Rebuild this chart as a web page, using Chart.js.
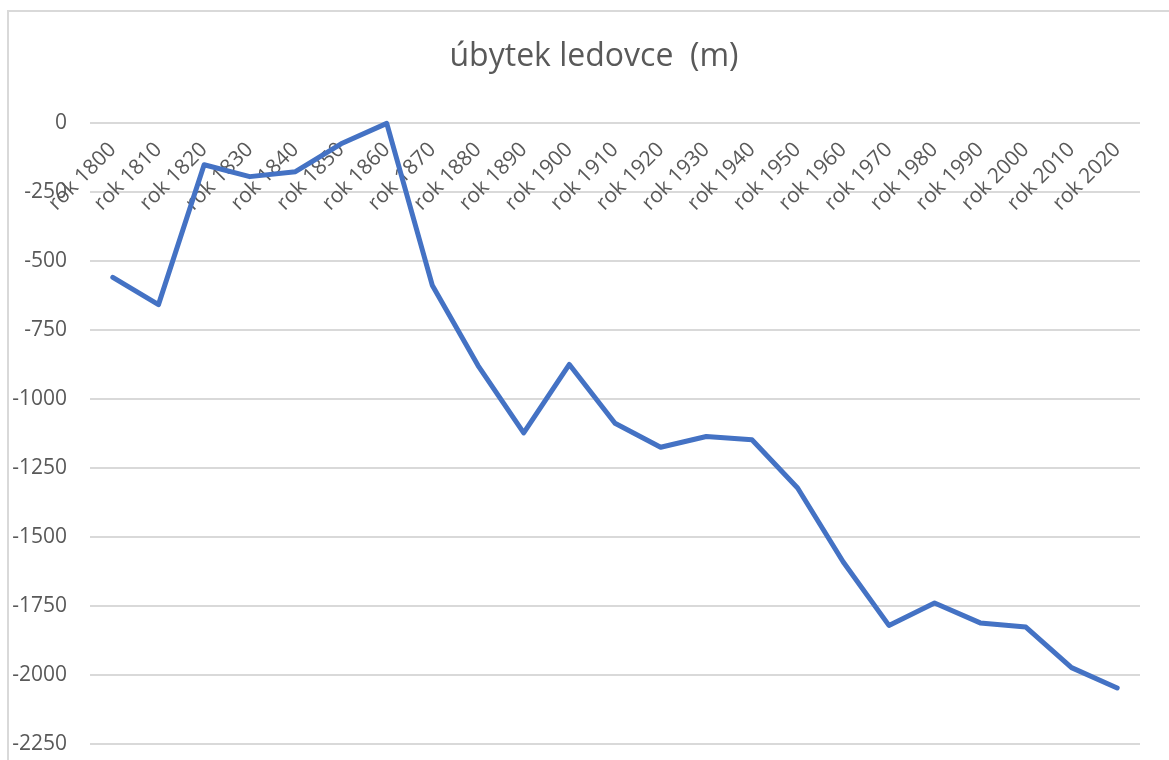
<!DOCTYPE html>
<html>
<head>
<meta charset="utf-8">
<title>úbytek ledovce</title>
<script src="https://cdn.jsdelivr.net/npm/chart.js@4"></script>
<style>
  body { margin: 0; background: #fff; overflow: hidden; }
  canvas { display: block; }
</style>
</head>
<body>
<canvas id="graf_ledovce" width="1169" height="760"></canvas>
<script>
// data
const roky = ['rok 1800', 'rok 1810', 'rok 1820', 'rok 1830', 'rok 1840', 'rok 1850', 'rok 1860',
    'rok 1870', 'rok 1880', 'rok 1890', 'rok 1900', 'rok 1910', 'rok 1920', 'rok 1930', 'rok 1940',
    'rok 1950', 'rok 1960', 'rok 1970', 'rok 1980', 'rok 1990', 'rok 2000', 'rok 2010', 'rok 2020'];
const ubytek = [-558, -657, -150, -193, -175, -74, 0,
    -588, -878, -1122, -874, -1087, -1174, -1135, -1147,
    -1322, -1590, -1820, -1739, -1811, -1826, -1973, -2047];
const yMin = -2250;
const yMax = 0;
const yKrok = 250;

const sedaText = '#595959';

// light frame around the chart like in Excel
const ramecek = {
    id: 'ramecek',
    beforeDraw(chart) {
        const c = chart.ctx;
        c.save();
        c.fillStyle = '#fff';
        c.fillRect(0, 0, chart.width, chart.height);
        c.strokeStyle = '#d9d9d9';
        c.lineWidth = 2;
        c.strokeRect(8, 11, chart.width + 50, chart.height + 50);
        c.restore();
    },
    // the excel title is centred on the whole (wider) chart, not only on the canvas
    afterLayout(chart) {
        if (chart.titleBlock) {
            chart.titleBlock.left = 48;
        }
    }
};

// no extra space under the plot for the labels, they sit inside the plot
const bezOkraje = (s) => {
    s.paddingBottom = 0;
    s.paddingTop = 0;
};

var ctx = document.getElementById('graf_ledovce').getContext('2d');
var chart = new Chart(ctx, {
    type: 'line',
    data: {
        labels: roky,
        datasets: [{
            label: 'úbytek ledovce (m)',
            data: ubytek,
            borderColor: '#4472C4',
            backgroundColor: '#4472C4',
            borderWidth: 5,
            borderJoinStyle: 'round',
            borderCapStyle: 'round',
            pointRadius: 0,
            tension: 0,
            clip: false
        }]
    },
    options: {
        responsive: false,
        animation: false,
        layout: {
            padding: { left: 10, right: 29, top: 10, bottom: 16 }
        },
        plugins: {
            legend: { display: false },
            tooltip: { enabled: false },
            title: {
                display: true,
                text: 'úbytek ledovce  (m)',
                color: sedaText,
                font: { family: 'Open Sans', size: 32, weight: 'normal' },
                padding: { top: 28, bottom: 47 }
            }
        },
        scales: {
            x: {
                position: { y: 0 },
                offset: true,
                afterFit: bezOkraje,
                grid: { display: false, drawTicks: false },
                border: { display: false },
                ticks: {
                    autoSkip: false,
                    minRotation: 45,
                    maxRotation: 45,
                    padding: 14,
                    color: sedaText,
                    font: { family: 'Open Sans', size: 21 }
                }
            },
            y: {
                min: yMin,
                max: yMax,
                afterFit: (s) => { s.width = 80; bezOkraje(s); },
                grid: { color: '#d9d9d9', lineWidth: 2, drawTicks: false },
                border: { display: false },
                ticks: {
                    stepSize: yKrok,
                    padding: 23,
                    color: sedaText,
                    font: { family: 'Open Sans', size: 21 },
                    callback: (v) => String(v)
                }
            }
        }
    },
    plugins: [ramecek]
});
</script>
</body>
</html>
